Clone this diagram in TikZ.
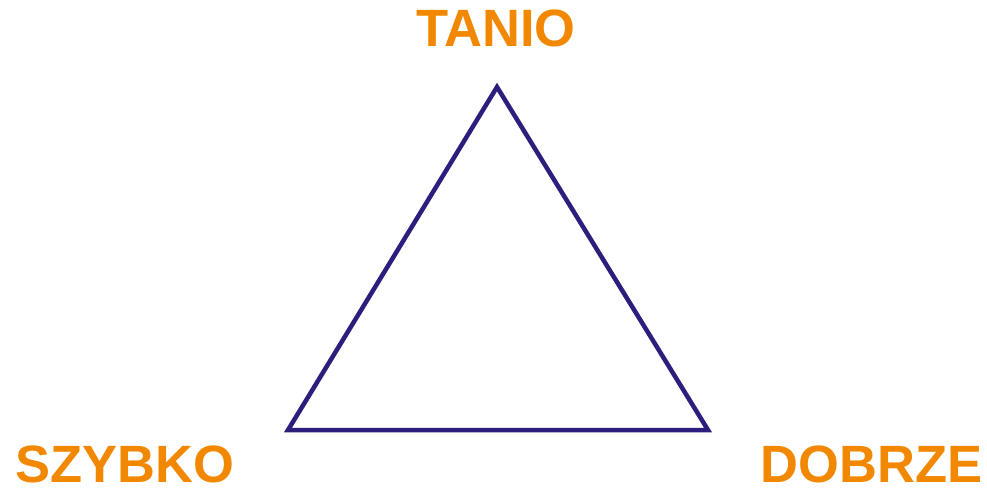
\documentclass[tikz,border=0pt]{standalone}
\usepackage{fontspec}
\setmainfont{Liberation Sans}
\definecolor{lblorange}{RGB}{242,135,0}
\definecolor{trinavy}{RGB}{45,30,125}
\begin{document}
\begin{tikzpicture}[x=1pt,y=-1pt,
  lbl/.style={text=lblorange,font=\fontsize{52.5}{60}\selectfont\bfseries,inner sep=0pt,text depth=0pt,anchor=base},
  tri/.style={draw=trinavy,line width=4.5pt,line join=miter}]
\useasboundingbox (0,0) rectangle (987,487);
\coordinate (top) at (497,87);
\coordinate (bl) at (288,430);
\coordinate (br) at (708,430);
\draw[tri] (top) -- (bl) -- (br) -- cycle;
\node[lbl] (tanio) at (496,46.5) {TANIO};
\node[lbl] (szybko) at (124.5,482) {SZYBKO};
\node[lbl] (dobrze) at (871.5,482) {DOBRZE};
\end{tikzpicture}
\end{document}
